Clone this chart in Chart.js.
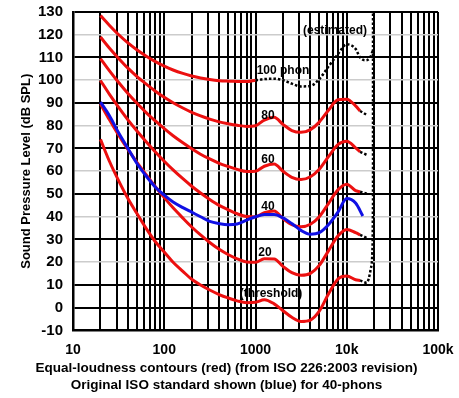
<!DOCTYPE html>
<html>
<head>
<meta charset="utf-8">
<title>Equal-loudness contours</title>
<script src="https://cdn.jsdelivr.net/npm/chart.js@4.4.1/dist/chart.umd.min.js"></script>
<style>
  html, body { margin: 0; padding: 0; background: #fff; }
  canvas { display: block; }
</style>
</head>
<body>
<canvas id="loudness" width="459" height="398"></canvas>
<script>
// ISO 226 band centres (Hz); the red curves run a little past 12.5k in the drawing
var freqs = [20, 25, 31.5, 40, 50, 63, 80, 100, 125, 160, 200, 250, 315, 400, 500, 630, 800, 1000,
             1250, 1600, 2000, 2500, 3150, 4000, 5000, 6300, 8000, 10000, 12500, 14000];

// red contours (dB SPL)
var phon100 = [128.4, 124.2, 120.1, 116.4, 113.4, 110.7, 108.2, 106.2, 104.5, 103.0, 101.9, 101.0,
               100.3, 99.8, 99.6, 99.5, 99.4, 100.0];
var phon80 = [119.0, 114.2, 109.7, 105.3, 101.7, 98.4, 95.2, 92.5, 90.1, 87.8, 85.9, 84.3, 82.9, 81.7,
              80.9, 80.2, 79.7, 80.0, 82.5, 83.7, 80.6, 77.9, 77.1, 78.3, 81.6, 86.8, 91.4, 91.7, 88.7, 86.5];
var phon60 = [109.5, 104.2, 99.1, 94.2, 90.0, 85.9, 82.1, 78.7, 75.6, 72.5, 69.9, 67.5, 65.4, 63.5,
              62.1, 60.8, 59.9, 60.0, 62.2, 63.2, 60.0, 57.3, 56.4, 57.6, 60.9, 66.4, 71.7, 73.2, 70.3, 68.5];
var phon40 = [99.9, 93.9, 88.2, 82.6, 77.8, 73.1, 68.5, 64.4, 60.6, 56.7, 53.4, 50.4, 47.6, 45.0, 43.1,
              41.3, 40.1, 40.0, 41.8, 42.5, 39.2, 36.5, 35.6, 36.7, 40.0, 45.8, 51.8, 54.3, 51.5, 51.0];
var phon20 = [89.6, 82.7, 76.0, 69.6, 64.0, 58.6, 53.2, 48.4, 43.9, 39.4, 35.5, 32.0, 28.7, 25.7, 23.4,
              21.5, 20.1, 20.0, 21.5, 21.4, 18.2, 15.4, 14.3, 15.1, 18.6, 25.0, 31.5, 34.4, 33.0, 32.0];
var threshold = [74.0, 64.5, 56.0, 48.0, 41.5, 35.0, 29.0, 24.5, 20.0, 16.0, 12.5, 10.0, 7.8, 5.8, 4.3,
                 3.0, 2.2, 2.4, 3.5, 1.7, -1.3, -4.2, -6.0, -5.4, -1.5, 6.0, 12.6, 13.9, 12.3, 12.0];

// blue: original ISO 40-phon contour
var blueFreqs = [20, 25, 31.5, 40, 50, 63, 80, 100, 125, 160, 200, 250, 315, 400, 500, 630, 800, 1000,
                 1250, 1600, 2000, 2500, 3150, 4000, 5000, 6300, 8000, 10000, 12500, 15000];
var blue40 = [90.4, 84.5, 77.0, 70.0, 63.5, 58.0, 53.0, 49.5, 46.5, 44.0, 42.0, 40.0, 38.0, 37.0, 36.5,
              36.8, 38.5, 40.0, 41.0, 41.0, 39.5, 37.0, 34.0, 32.3, 33.0, 36.5, 42.0, 48.0, 46.0, 40.3];

// black dotted: estimated 100-phon continuation
var estFreqs = [1000, 1250, 1600, 2000, 2500, 3150, 4000, 5000, 6300, 8000, 10000, 12500, 14000, 16000, 18000, 19300];
var est100 = [100.0, 100.5, 100.7, 100.0, 98.5, 97.3, 97.5, 100.5, 106.0, 111.5, 115.8, 113.8, 110.0, 108.8, 110.0, 113.0];

// black dotted: short tails of the red curves and the upper-frequency edge
var tailFreqs = [14000, 17000];
var tail80 = [86.5, 84.5];
var tail60 = [68.5, 67.0];
var tail40 = [51.0, 50.0];
var tail20 = [32.0, 30.5];
var edgeFreqs = [14000, 16500, 18300, 19200, 19400, 19400];
var edgeLevels = [12.0, 11.0, 17.0, 28.0, 45.0, 130.0];

// axis ticks
var decadeValues = [10, 100, 1000, 10000, 100000];
var decadeLabels = ['10', '100', '1000', '10k', '100k'];
var greyLevels = [120, 100, 80, 60, 40, 20];

// curve labels
var curveLabels = ['100 phon', '80', '60', '40', '20', '(threshold)', '(estimated)'];
var labelFreqs = [2000, 1370, 1370, 1370, 1270, 1480, 7430];
var labelLevels = [104.4, 84.5, 65.1, 44.3, 24.4, 6.3, 122];

var RED = 'rgb(236, 16, 16)';
var BLUE = 'rgb(16, 16, 228)';
var FONT = '"Liberation Sans", Arial, sans-serif';

function points(xs, ys) {
    return ys.map(function (y, i) { return { x: xs[i], y: y }; });
}

function redLine(ys) {
    return { data: points(freqs, ys), borderColor: RED, borderWidth: 3, order: 2 };
}

function dotted(xs, ys) {
    return { data: points(xs, ys), borderColor: '#000', borderWidth: 2.5, borderDash: [2.5, 2], order: 1 };
}

var curveLabelPlugin = {
    id: 'curveLabels',
    afterDatasetsDraw: function (chart) {
        var ctx = chart.ctx;
        var xs = chart.scales.x, ys = chart.scales.y;
        ctx.save();
        ctx.font = 'bold 12px ' + FONT;
        ctx.fillStyle = '#000';
        ctx.textAlign = 'center';
        ctx.textBaseline = 'middle';
        curveLabels.forEach(function (t, i) {
            ctx.fillText(t, xs.getPixelForValue(labelFreqs[i]), ys.getPixelForValue(labelLevels[i]));
        });
        ctx.restore();
    }
};

var ctx = document.getElementById('loudness').getContext('2d');
var chart = new Chart(ctx, {
    type: 'line',
    data: {
        datasets: [
            { data: points(blueFreqs, blue40), borderColor: BLUE, borderWidth: 3, order: 0 },
            redLine(phon100),
            redLine(phon80),
            redLine(phon60),
            redLine(phon40),
            redLine(phon20),
            redLine(threshold),
            dotted(estFreqs, est100),
            dotted(tailFreqs, tail80),
            dotted(tailFreqs, tail60),
            dotted(tailFreqs, tail40),
            dotted(tailFreqs, tail20),
            dotted(edgeFreqs, edgeLevels)
        ]
    },
    options: {
        responsive: false,
        animation: false,
        layout: { padding: { left: 15, right: 21, top: 12, bottom: 0 } },
        elements: {
            point: { radius: 0 },
            line: { cubicInterpolationMode: 'monotone', fill: false }
        },
        plugins: {
            legend: { display: false },
            tooltip: { enabled: false },
            title: {
                display: true,
                position: 'bottom',
                text: ['Equal-loudness contours (red) (from ISO 226:2003 revision)',
                       'Original ISO standard shown (blue) for 40-phons'],
                color: '#000',
                font: { family: FONT, size: 13.5, weight: 'bold', lineHeight: 1.26 },
                padding: { top: 0, bottom: 4 }
            }
        },
        scales: {
            x: {
                type: 'logarithmic',
                min: 10,
                max: 100000,
                afterBuildTicks: function (scale) {
                    var ticks = [];
                    for (var d = 10; d < 100000; d *= 10) {
                        for (var m = 1; m < 10; m++) ticks.push({ value: d * m });
                    }
                    ticks.push({ value: 100000 });
                    scale.ticks = ticks;
                },
                afterFit: function (scale) {
                    scale.height = 29.5;
                    scale.paddingLeft = 0;
                    scale.paddingRight = 0;
                },
                grid: { color: '#000', lineWidth: 2, drawTicks: false },
                border: { color: '#000', width: 2.5 },
                ticks: {
                    autoSkip: false,
                    maxRotation: 0,
                    padding: 11,
                    color: '#000',
                    font: { family: FONT, size: 14, weight: 'bold' },
                    callback: function (v) {
                        var i = decadeValues.indexOf(v);
                        return i >= 0 ? decadeLabels[i] : '';
                    }
                }
            },
            y: {
                min: -10,
                max: 130,
                afterFit: function (scale) {
                    scale.width = 58;
                    scale.paddingTop = 0;
                    scale.paddingBottom = 0;
                },
                grid: {
                    drawTicks: false,
                    color: function (c) { return greyLevels.indexOf(c.tick.value) >= 0 ? '#cccccc' : '#000'; },
                    lineWidth: function (c) { return greyLevels.indexOf(c.tick.value) >= 0 ? 1.5 : 2; }
                },
                border: { color: '#000', width: 2.5 },
                ticks: {
                    stepSize: 10,
                    padding: 10,
                    color: '#000',
                    font: { family: FONT, size: 15, weight: 'bold' }
                },
                title: {
                    display: true,
                    text: 'Sound Pressure Level (dB SPL)',
                    color: '#000',
                    font: { family: FONT, size: 13, weight: 'bold' }
                }
            }
        }
    },
    plugins: [curveLabelPlugin]
});
</script>
</body>
</html>
